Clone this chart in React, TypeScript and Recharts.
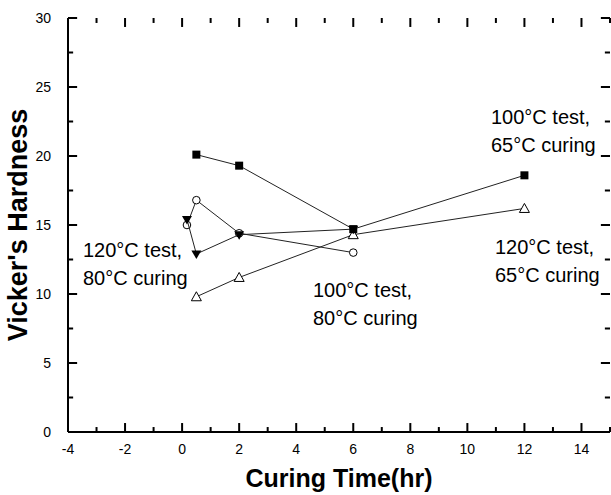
import { ScatterChart, Scatter, XAxis, YAxis, ReferenceLine } from 'recharts';

// curing time (hr) vs Vicker's hardness, one array per test condition
const test100cure65 = [
  { x: 0.5, y: 20.1 },
  { x: 2, y: 19.3 },
  { x: 6, y: 14.7 },
  { x: 12, y: 18.6 },
];
const test100cure80 = [
  { x: 0.17, y: 15.0 },
  { x: 0.5, y: 16.8 },
  { x: 2, y: 14.4 },
  { x: 6, y: 13.0 },
];
const test120cure80 = [
  { x: 0.17, y: 15.4 },
  { x: 0.5, y: 12.9 },
  { x: 2, y: 14.3 },
  { x: 6, y: 14.7 },
];
const test120cure65 = [
  { x: 0.5, y: 9.8 },
  { x: 2, y: 11.2 },
  { x: 6, y: 14.3 },
  { x: 12, y: 16.2 },
];

const xMajor = [-4, -2, 0, 2, 4, 6, 8, 10, 12, 14];
const xMinor = [-3, -1, 1, 3, 5, 7, 9, 11, 13, 15];
const yMajor = [0, 5, 10, 15, 20, 25, 30];
const yMinor = [2.5, 7.5, 12.5, 17.5, 22.5, 27.5];

const X_MIN = -4;
const X_MAX = 15;
const Y_MIN = 0;
const Y_MAX = 30;

const FONT = '"Liberation Sans", Arial, sans-serif';
const INK = '#000';
const lineStyle = { stroke: '#222', strokeWidth: 1 };
const tickStroke = { stroke: INK, strokeWidth: 2 };

// tick lengths in data units (inward pointing, like the original frame)
const X_TICK_LONG = 0.65;
const X_TICK_SHORT = 0.36;
const Y_TICK_LONG = 0.32;
const Y_TICK_SHORT = 0.18;

const xTickMarks = [
  ...xMajor.map((v) => ({ v, len: X_TICK_LONG })),
  ...xMinor.map((v) => ({ v, len: X_TICK_SHORT })),
];
const yTickMarks = [
  ...yMajor.map((v) => ({ v, len: Y_TICK_LONG })),
  ...yMinor.map((v) => ({ v, len: Y_TICK_SHORT })),
];

const BottomLabel = (props: any) => (
  <text x={props.x} y={Number(props.y) + 22} textAnchor="middle" fontSize={14} fontFamily={FONT} fill={INK}>
    {props.payload.value}
  </text>
);

const LeftLabel = (props: any) => (
  <text x={Number(props.x) - 17} y={Number(props.y) + 5} textAnchor="end" fontSize={14} fontFamily={FONT} fill={INK}>
    {props.payload.value}
  </text>
);

const FilledSquare = ({ cx, cy }: any) => (
  <rect x={cx - 4} y={cy - 4} width={8} height={8} fill={INK} />
);
const OpenCircle = ({ cx, cy }: any) => (
  <circle cx={cx} cy={cy} r={3.8} fill="#fff" stroke={INK} strokeWidth={1} />
);
const FilledDownTriangle = ({ cx, cy }: any) => (
  <path d={`M${cx - 5},${cy - 3.5} L${cx + 5},${cy - 3.5} L${cx},${cy + 5} Z`} fill={INK} />
);
const OpenTriangle = ({ cx, cy }: any) => (
  <path d={`M${cx},${cy - 5} L${cx + 5},${cy + 4} L${cx - 5},${cy + 4} Z`} fill="#fff" stroke={INK} strokeWidth={1} />
);

const notes = [
  { lines: ['100°C test,', '65°C curing'], left: 491, top: 117 },
  { lines: ['120°C test,', '65°C curing'], left: 495, top: 247 },
  { lines: ['120°C test,', '80°C curing'], left: 83, top: 250 },
  { lines: ['100°C test,', '80°C curing'], left: 313, top: 290 },
];

export default function App() {
  return (
    <div style={{ position: 'absolute', left: 0, top: 0, width: 611, height: 495, background: '#fff' }}>
      <ScatterChart width={611} height={495} margin={{ top: 18, right: 1, bottom: 0, left: 0 }}>
        <XAxis
          type="number"
          dataKey="x"
          domain={[X_MIN, X_MAX]}
          ticks={xMajor}
          interval={0}
          height={63}
          tickSize={0}
          tickMargin={0}
          tickLine={false}
          tick={BottomLabel}
          axisLine={{ stroke: INK, strokeWidth: 2 }}
          label={{
            content: () => (
              <text x={339} y={487} textAnchor="middle" fontSize={25} fontWeight="bold" fontFamily={FONT} fill={INK}>
                Curing Time(hr)
              </text>
            ),
          }}
        />
        <XAxis
          xAxisId="top"
          orientation="top"
          type="number"
          domain={[X_MIN, X_MAX]}
          height={0}
          tick={false}
          tickLine={false}
          axisLine={{ stroke: INK, strokeWidth: 2 }}
        />
        <YAxis
          type="number"
          dataKey="y"
          domain={[Y_MIN, Y_MAX]}
          ticks={yMajor}
          interval={0}
          width={68}
          tickSize={0}
          tickMargin={0}
          tickLine={false}
          tick={LeftLabel}
          axisLine={{ stroke: INK, strokeWidth: 2 }}
          label={{
            content: () => (
              <text
                x={27}
                y={225}
                transform="rotate(-90 27 225)"
                textAnchor="middle"
                fontSize={27}
                fontWeight="bold"
                fontFamily={FONT}
                fill={INK}
              >
                Vicker's Hardness
              </text>
            ),
          }}
        />
        <YAxis
          yAxisId="right"
          orientation="right"
          type="number"
          domain={[Y_MIN, Y_MAX]}
          width={0}
          tick={false}
          tickLine={false}
          axisLine={{ stroke: INK, strokeWidth: 2 }}
        />
        {xTickMarks.map((t) => (
          <ReferenceLine key={`xb${t.v}`} segment={[{ x: t.v, y: Y_MIN }, { x: t.v, y: Y_MIN + t.len }]} {...tickStroke} />
        ))}
        {xTickMarks.map((t) => (
          <ReferenceLine key={`xt${t.v}`} segment={[{ x: t.v, y: Y_MAX }, { x: t.v, y: Y_MAX - t.len }]} {...tickStroke} />
        ))}
        {yTickMarks.map((t) => (
          <ReferenceLine key={`yl${t.v}`} segment={[{ x: X_MIN, y: t.v }, { x: X_MIN + t.len, y: t.v }]} {...tickStroke} />
        ))}
        {yTickMarks.map((t) => (
          <ReferenceLine key={`yr${t.v}`} segment={[{ x: X_MAX, y: t.v }, { x: X_MAX - t.len, y: t.v }]} {...tickStroke} />
        ))}
        <Scatter data={test120cure65} line={lineStyle} shape={<OpenTriangle />} isAnimationActive={false} />
        <Scatter data={test100cure80} line={lineStyle} shape={<OpenCircle />} isAnimationActive={false} />
        <Scatter data={test120cure80} line={lineStyle} shape={<FilledDownTriangle />} isAnimationActive={false} />
        <Scatter data={test100cure65} line={lineStyle} shape={<FilledSquare />} isAnimationActive={false} />
      </ScatterChart>
      {notes.map((n, i) => (
        <div
          key={i}
          style={{
            position: 'absolute',
            left: n.left,
            top: n.top - 14,
            fontFamily: FONT,
            fontSize: 20,
            lineHeight: '28px',
            color: INK,
            whiteSpace: 'nowrap',
          }}
        >
          {n.lines.map((l) => (
            <div key={l}>{l}</div>
          ))}
        </div>
      ))}
    </div>
  );
}
